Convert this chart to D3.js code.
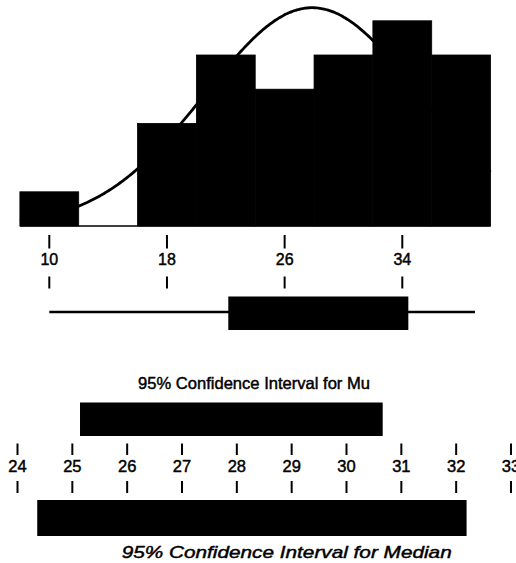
<!DOCTYPE html>
<html>
<head>
<meta charset="utf-8">
<script src="https://cdn.jsdelivr.net/npm/d3@7"></script>
<style>
  html, body { margin: 0; padding: 0; background: #fff; }
  svg { display: block; }
  text { font-family: "Liberation Sans", Arial, Helvetica, sans-serif; fill: #000; stroke: #000; stroke-width: 0.45px; }
</style>
</head>
<body>
<svg id="chart" width="516" height="563"></svg>
<script>
// ---- data ----
const binEdges = [8, 12, 16, 20, 24, 28, 32, 36, 40];
const binCounts = [1, 0, 3, 5, 4, 5, 6, 5];
const sampleN = 29;
const sampleMean = 27.87;
const sampleSD = 7.25;
const histTicks = [10, 18, 26, 34];
const boxStats = { min: 10, q1: 22.17, q3: 34.41, max: 38.94 };
const ciMu = [25.14, 30.66];
const ciMedian = [24.36, 32.19];
const ciTicks = [24, 25, 26, 27, 28, 29, 30, 31, 32, 33];
const titleMu = "95% Confidence Interval for Mu";
const titleMedian = "95% Confidence Interval for Median";

// ---- drawing ----
const svg = d3.select("#chart");
const ink = "#000";

// histogram scales
const x = d3.scaleLinear().domain([10, 34]).range([49.3, 402.3]);
const y = d3.scaleLinear().domain([0, 6]).range([226, 20.8]);

const bins = binCounts.map((c, i) => ({ x0: binEdges[i], x1: binEdges[i + 1], c }));

// normal curve
const binW = binEdges[1] - binEdges[0];
const dens = v => sampleN * binW / (sampleSD * Math.sqrt(2 * Math.PI)) *
  Math.exp(-((v - sampleMean) ** 2) / (2 * sampleSD * sampleSD));
const curvePts = d3.range(binEdges[0], binEdges[binEdges.length - 1] + 0.001, 0.1);
svg.append("path")
  .datum(curvePts)
  .attr("fill", "none")
  .attr("stroke", ink)
  .attr("stroke-width", 2.8)
  .attr("d", d3.line().x(d => x(d)).y(d => y(dens(d))).curve(d3.curveBasis));

// baseline
svg.append("line")
  .attr("x1", x(binEdges[0])).attr("x2", x(binEdges[binEdges.length - 1]))
  .attr("y1", y(0)).attr("y2", y(0))
  .attr("stroke", ink).attr("stroke-width", 1.5);

svg.append("g").selectAll("rect").data(bins.filter(d => d.c > 0)).join("rect")
  .attr("x", d => x(d.x0))
  .attr("width", d => x(d.x1) - x(d.x0))
  .attr("y", d => y(d.c))
  .attr("height", d => y(0) - y(d.c))
  .attr("fill", ink)
  .attr("stroke", ink)
  .attr("stroke-width", 0.8);

// histogram axis: tick above, label, tick below
const gh = svg.append("g");
gh.selectAll("line.t1").data(histTicks).join("line")
  .attr("x1", d => x(d)).attr("x2", d => x(d))
  .attr("y1", 235).attr("y2", 248.5)
  .attr("stroke", ink).attr("stroke-width", 2);
gh.selectAll("line.t2").data(histTicks).join("line")
  .attr("x1", d => x(d)).attr("x2", d => x(d))
  .attr("y1", 276.5).attr("y2", 288.5)
  .attr("stroke", ink).attr("stroke-width", 2);
gh.selectAll("text").data(histTicks).join("text")
  .attr("x", d => x(d)).attr("y", 265)
  .attr("text-anchor", "middle")
  .attr("font-size", 16)
  .text(d => d);

// boxplot
const by = 312;
svg.append("line")
  .attr("x1", x(boxStats.min)).attr("x2", x(boxStats.max))
  .attr("y1", by).attr("y2", by)
  .attr("stroke", ink).attr("stroke-width", 2.4);
svg.append("rect")
  .attr("x", x(boxStats.q1)).attr("width", x(boxStats.q3) - x(boxStats.q1))
  .attr("y", 296.5).attr("height", 33.5)
  .attr("fill", ink);

// CI section
const xc = d3.scaleLinear().domain([24, 33]).range([17.5, 511]);

svg.append("text")
  .attr("x", 254).attr("y", 388.5)
  .attr("text-anchor", "middle")
  .attr("font-size", 16.5)
  .attr("textLength", 232).attr("lengthAdjust", "spacingAndGlyphs")
  .text(titleMu);

svg.append("rect")
  .attr("x", xc(ciMu[0])).attr("width", xc(ciMu[1]) - xc(ciMu[0]))
  .attr("y", 402.5).attr("height", 33.5)
  .attr("fill", ink);

const gc = svg.append("g");
gc.selectAll("line.t1").data(ciTicks).join("line")
  .attr("x1", d => xc(d)).attr("x2", d => xc(d))
  .attr("y1", 443.5).attr("y2", 455)
  .attr("stroke", ink).attr("stroke-width", 2);
gc.selectAll("line.t2").data(ciTicks).join("line")
  .attr("x1", d => xc(d)).attr("x2", d => xc(d))
  .attr("y1", 481).attr("y2", 493)
  .attr("stroke", ink).attr("stroke-width", 2);
gc.selectAll("text").data(ciTicks).join("text")
  .attr("x", d => xc(d)).attr("y", 471.5)
  .attr("text-anchor", "middle")
  .attr("font-size", 16.5)
  .text(d => d);

svg.append("rect")
  .attr("x", xc(ciMedian[0])).attr("width", xc(ciMedian[1]) - xc(ciMedian[0]))
  .attr("y", 500).attr("height", 36)
  .attr("fill", ink);

svg.append("text")
  .attr("x", 286.7).attr("y", 558)
  .attr("text-anchor", "middle")
  .attr("font-size", 16.5)
  .attr("font-style", "italic")
  .attr("textLength", 330).attr("lengthAdjust", "spacingAndGlyphs")
  .text(titleMedian);
</script>
</body>
</html>
